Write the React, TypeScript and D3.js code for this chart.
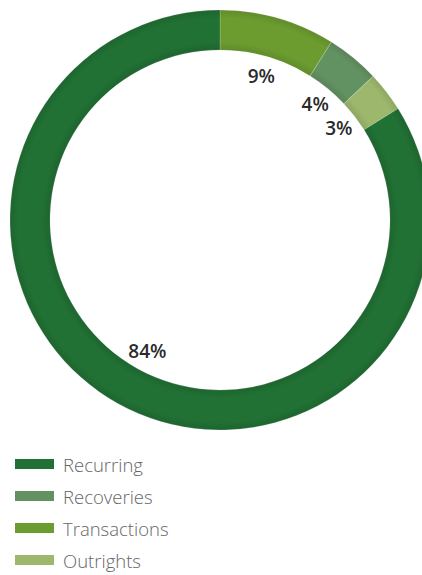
import React from "react";
import * as d3 from "d3";

const categories = ["Transactions", "Recoveries", "Outrights", "Recurring"];
const values = [8.9, 4.1, 3.1, 83.9];
const labels = ["9%", "4%", "3%", "84%"];
const colors = ["#6c9b30", "#639262", "#9db86d", "#217034"];
const legendOrder = ["Recurring", "Recoveries", "Transactions", "Outrights"];

export default function App() {
  const W = 422, H = 575;
  const cx = 220, cy = 220, rOuter = 210, rInner = 170, rLabel = 150;
  const pie = d3.pie<number>().sort(null).value((d) => d)(values);
  const arc = d3.arc<d3.PieArcDatum<number>>().innerRadius(rInner).outerRadius(rOuter);
  const legendY = d3.scaleBand<string>().domain(legendOrder).range([448, 576]);
  const font = "'Open Sans', 'Noto Sans', sans-serif";
  return (
    <svg width={W} height={H} style={{ position: "absolute", left: 0, top: 0 }}>
      <defs>
        <radialGradient id="shade" gradientUnits="userSpaceOnUse" cx={0} cy={0} r={rOuter}>
          <stop offset={rInner / rOuter} stopColor="#000" stopOpacity={0.1} />
          <stop offset={(rInner + 8) / rOuter} stopColor="#000" stopOpacity={0.0} />
          <stop offset={(rOuter - 8) / rOuter} stopColor="#000" stopOpacity={0.0} />
          <stop offset={1} stopColor="#000" stopOpacity={0.1} />
        </radialGradient>
      </defs>
      <g transform={`translate(${cx},${cy})`}>
        {pie.map((p, i) => (
          <g key={i}>
            <path d={arc(p) as string} fill={colors[i]} />
            <path d={arc(p) as string} fill="url(#shade)" stroke="#ffffff" strokeOpacity={0.3} strokeWidth={0.6} />
          </g>
        ))}
        {pie.map((p, i) => {
          const a = (p.startAngle + p.endAngle) / 2;
          const x = rLabel * Math.sin(a);
          const y = -rLabel * Math.cos(a);
          return (
            <text key={i} x={x} y={y} textAnchor="middle" dominantBaseline="central"
              fontFamily={font} fontWeight={600} fontSize={19} fill="#2a2a2a">
              {labels[i]}
            </text>
          );
        })}
      </g>
      {legendOrder.map((c) => {
        const i = categories.indexOf(c);
        const y = (legendY(c) as number) + legendY.bandwidth() / 2;
        return (
          <g key={c}>
            <rect x={15} y={y - 5} width={39} height={10} fill={colors[i]} />
            <text x={63} y={y} dominantBaseline="central" fontFamily={font} fontWeight={300}
              fontSize={18.5} fill="#666">
              {c}
            </text>
          </g>
        );
      })}
    </svg>
  );
}
